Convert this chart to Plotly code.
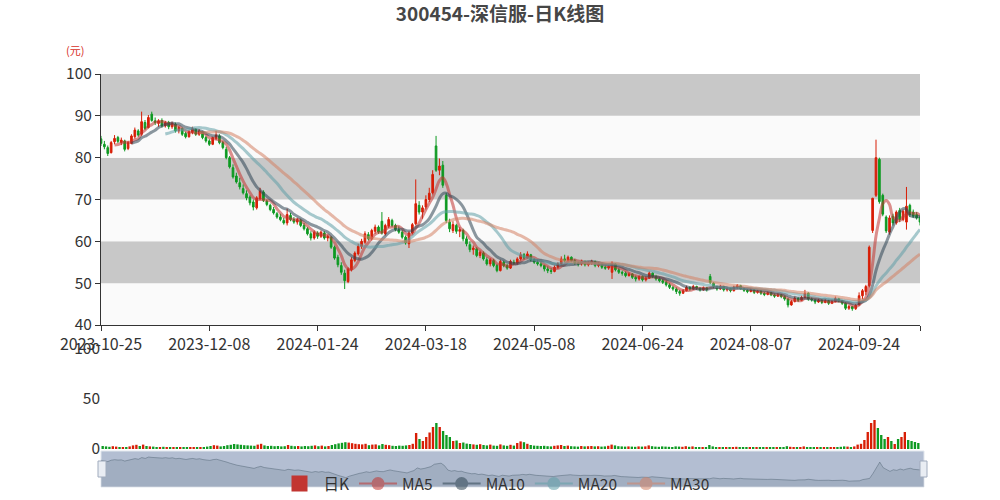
import pandas as pd
import plotly.graph_objects as go

# ---------------- data ----------------
holidays = ['2024-01-01', '2024-02-09', '2024-02-12', '2024-02-13', '2024-02-14', '2024-02-15',
            '2024-02-16', '2024-04-04', '2024-04-05', '2024-05-01', '2024-05-02', '2024-05-03',
            '2024-06-10', '2024-09-16', '2024-09-17', '2024-10-01', '2024-10-02', '2024-10-03',
            '2024-10-04', '2024-10-07']
dates = [d.strftime('%Y-%m-%d') for d in pd.bdate_range('2023-10-25', '2024-10-25')
         if d.strftime('%Y-%m-%d') not in holidays]

opens = [
    84.5, 83.2, 82.4, 81.2, 83.8, 84.8, 83.6, 84.0, 82.2, 83.4,
    85.0, 86.4, 85.6, 88.4, 87.2, 90.4, 88.8, 88.2, 88.9, 87.6,
    88.4, 87.4, 88.0, 86.4, 87.0, 85.8, 85.0, 86.0, 86.8, 85.6,
    86.2, 84.8, 84.0, 83.2, 84.6, 85.2, 83.6, 82.0, 80.0, 77.6,
    75.6, 74.0, 72.6, 71.4, 70.6, 69.4, 68.0, 70.2, 71.8, 69.6,
    68.6, 67.6, 66.6, 65.8, 65.0, 64.4, 66.2, 65.2, 64.6, 65.0,
    63.8, 63.0, 61.8, 60.8, 62.0, 61.2, 62.0, 60.8, 61.0, 58.6,
    56.2, 54.2, 52.4, 50.4, 53.2, 55.4, 57.0, 58.8, 59.8, 61.6,
    60.6, 62.4, 63.4, 64.8, 61.8, 63.6, 65.0, 63.8, 62.8, 62.2,
    61.0, 59.4, 62.0, 64.2, 68.6, 67.0, 68.2, 70.0, 71.6, 82.8,
    77.0, 78.2, 71.0, 64.6, 62.6, 63.8, 62.4, 62.6, 60.6, 59.2,
    58.0, 58.2, 56.6, 57.2, 55.6, 54.6, 55.4, 54.2, 53.0, 55.0,
    54.2, 53.6, 55.0, 54.8, 55.8, 56.8, 56.0, 56.8, 55.6, 55.0,
    54.6, 54.2, 53.4, 53.0, 52.8, 53.8, 54.6, 55.8, 55.4, 56.2,
    55.4, 54.8, 54.6, 55.2, 54.4, 54.8, 55.2, 54.2, 54.6, 53.8,
    53.6, 52.6, 54.6, 53.2, 52.6, 52.4, 51.8, 52.2, 51.4, 51.0,
    51.6, 50.8, 51.2, 52.4, 51.6, 51.0, 50.6, 50.2, 49.6, 49.0,
    48.6, 48.0, 47.6, 48.2, 49.0, 48.6, 49.2, 48.8, 48.4, 48.9,
    51.6, 50.0, 49.2, 48.6, 49.2, 48.4, 48.7, 48.2, 49.0, 49.4,
    48.6, 48.3, 48.0, 48.4, 47.8, 48.1, 47.6, 47.3, 47.7, 47.2,
    46.9, 47.2, 46.8, 46.2, 44.8, 45.6, 46.4, 45.9, 46.6, 47.6,
    46.2, 46.0, 45.5, 45.9, 45.4, 45.8, 45.2, 45.6, 46.3, 45.8,
    45.2, 44.0, 44.4, 43.9, 44.8, 47.0, 48.0, 49.4, 62.6, 71.0,
    79.6, 71.0, 65.8, 62.2, 66.0, 64.4, 67.4, 65.2, 64.6, 68.6,
    67.0, 66.4, 65.8]

highs = [
    85.2, 84.0, 82.9, 84.0, 85.4, 85.2, 84.8, 84.3, 84.0, 85.6,
    87.2, 86.8, 91.0, 89.0, 90.2, 91.0, 89.6, 89.2, 89.4, 88.8,
    88.8, 88.6, 88.4, 87.6, 87.2, 86.2, 86.6, 87.4, 87.0, 86.8,
    86.4, 85.2, 84.4, 85.0, 86.4, 85.6, 84.0, 82.6, 80.4, 78.4,
    76.4, 75.2, 73.6, 72.2, 71.0, 70.0, 70.8, 72.8, 72.2, 70.0,
    69.0, 68.2, 67.0, 66.6, 65.6, 67.8, 66.8, 65.8, 65.6, 65.4,
    64.4, 63.4, 62.4, 62.6, 62.4, 62.6, 62.4, 61.6, 61.2, 59.0,
    56.8, 55.0, 53.2, 53.8, 56.2, 57.6, 59.4, 60.6, 62.4, 62.2,
    63.0, 64.0, 63.8, 67.0, 64.2, 65.8, 65.4, 64.2, 63.6, 62.6,
    61.4, 62.4, 64.4, 74.8, 69.6, 68.6, 71.0, 72.8, 77.0, 85.2,
    79.8, 79.2, 71.6, 65.4, 64.8, 64.2, 63.4, 63.0, 61.2, 60.0,
    59.0, 58.6, 57.8, 57.6, 56.2, 56.0, 55.8, 54.6, 55.6, 55.4,
    54.6, 55.6, 55.6, 56.2, 57.4, 57.2, 57.6, 57.0, 56.0, 55.6,
    55.2, 54.4, 54.0, 53.6, 54.2, 55.0, 56.4, 56.8, 56.6, 56.4,
    55.8, 55.2, 55.6, 55.4, 55.2, 55.6, 55.4, 55.0, 54.8, 54.4,
    54.4, 55.2, 54.8, 53.6, 53.0, 52.8, 52.6, 52.4, 51.8, 51.8,
    51.8, 51.6, 52.8, 52.6, 52.0, 51.4, 51.0, 50.6, 50.0, 49.4,
    49.0, 48.4, 48.6, 49.4, 49.2, 49.6, 49.4, 49.0, 49.2, 49.0,
    52.2, 50.2, 49.4, 49.6, 49.4, 49.0, 48.9, 49.4, 49.8, 49.6,
    48.9, 48.6, 48.8, 48.6, 48.4, 48.3, 47.9, 48.0, 47.9, 47.5,
    47.6, 47.4, 47.0, 46.4, 46.0, 46.8, 46.6, 47.0, 48.4, 47.8,
    46.6, 46.2, 46.3, 46.1, 46.2, 46.0, 46.0, 46.8, 46.5, 46.0,
    45.4, 44.8, 44.6, 45.0, 47.8, 48.6, 49.6, 59.0, 70.4, 84.3,
    80.0, 71.4, 66.2, 66.2, 66.6, 67.4, 68.0, 67.6, 73.0, 69.0,
    67.6, 67.0, 66.2]

lows = [
    82.8, 82.0, 80.4, 81.0, 83.2, 83.5, 83.0, 81.5, 81.8, 83.2,
    84.6, 85.0, 85.2, 86.6, 87.0, 88.6, 87.8, 87.4, 87.2, 87.2,
    86.8, 86.9, 86.0, 85.8, 85.2, 84.6, 84.8, 85.6, 85.2, 85.2,
    84.4, 83.6, 82.8, 83.0, 84.2, 83.2, 82.0, 79.6, 77.4, 75.0,
    73.8, 72.4, 71.2, 69.8, 68.6, 67.4, 67.6, 69.8, 69.4, 68.4,
    67.2, 66.4, 65.4, 64.8, 64.0, 63.8, 64.8, 64.2, 64.0, 63.4,
    62.6, 61.4, 60.2, 60.4, 60.6, 60.8, 60.4, 60.0, 58.2, 55.6,
    53.8, 52.0, 48.6, 50.0, 52.8, 55.0, 56.6, 58.2, 59.4, 60.2,
    60.2, 61.8, 61.8, 61.6, 61.4, 63.2, 63.4, 62.4, 61.8, 60.6,
    59.2, 58.4, 61.6, 63.8, 66.4, 65.4, 67.6, 69.4, 71.2, 76.6,
    75.8, 72.8, 64.4, 62.2, 62.0, 61.8, 61.0, 60.0, 58.8, 57.4,
    56.8, 56.2, 56.0, 55.4, 54.2, 54.0, 53.8, 52.6, 52.8, 53.8,
    53.2, 53.4, 54.4, 54.4, 55.4, 55.6, 55.8, 55.2, 54.6, 54.2,
    53.8, 52.8, 52.4, 52.2, 52.6, 53.4, 54.4, 55.0, 55.0, 55.0,
    54.4, 54.0, 54.2, 54.0, 54.0, 54.4, 53.8, 53.8, 53.4, 53.2,
    53.2, 51.0, 52.8, 52.2, 51.8, 51.4, 51.6, 51.0, 50.4, 50.6,
    50.4, 50.4, 51.0, 51.2, 50.6, 50.2, 49.8, 49.2, 48.6, 48.2,
    47.4, 47.0, 47.4, 48.0, 48.2, 48.4, 48.4, 48.0, 48.2, 48.0,
    49.8, 48.8, 48.2, 48.4, 48.0, 48.0, 47.8, 48.0, 48.6, 48.4,
    47.9, 47.6, 47.8, 47.4, 47.5, 47.2, 46.9, 47.1, 46.9, 46.5,
    46.7, 46.4, 45.8, 44.2, 44.6, 45.4, 45.5, 45.7, 46.4, 45.8,
    45.6, 45.0, 45.3, 45.0, 45.2, 44.8, 45.0, 45.4, 45.4, 44.8,
    43.6, 43.6, 43.4, 43.6, 44.6, 46.2, 47.2, 49.0, 62.0, 70.6,
    69.0, 66.0, 62.0, 61.6, 63.8, 64.0, 64.6, 64.8, 62.8, 65.8,
    65.6, 65.2, 63.8]

closes = [
    83.4, 82.6, 81.0, 83.6, 84.6, 83.9, 84.2, 82.0, 83.6, 85.2,
    86.6, 85.4, 88.6, 87.0, 89.6, 88.9, 88.4, 88.8, 87.6, 88.4,
    87.4, 88.2, 86.4, 87.2, 85.6, 85.0, 86.2, 86.9, 85.6, 86.4,
    84.8, 84.0, 83.2, 84.8, 85.4, 83.6, 82.4, 80.0, 77.8, 75.4,
    74.2, 73.0, 71.6, 70.4, 69.2, 68.2, 70.4, 72.0, 69.8, 68.8,
    67.6, 66.8, 65.8, 65.2, 64.4, 66.4, 65.2, 64.6, 65.2, 63.8,
    63.0, 61.8, 60.8, 62.2, 61.2, 62.2, 60.8, 61.2, 58.6, 56.0,
    54.4, 52.6, 50.6, 53.4, 55.6, 57.2, 58.8, 60.0, 61.8, 60.6,
    62.6, 63.4, 62.2, 62.0, 63.8, 65.2, 63.8, 62.8, 62.2, 61.0,
    59.6, 62.0, 64.0, 69.0, 67.0, 68.0, 70.0, 71.5, 76.0, 77.0,
    78.0, 73.4, 65.0, 63.0, 64.0, 62.4, 62.8, 60.6, 59.4, 58.0,
    58.4, 56.6, 57.4, 55.8, 54.6, 55.6, 54.2, 53.0, 55.2, 54.2,
    53.6, 55.2, 54.8, 55.8, 56.8, 56.0, 57.0, 55.6, 55.0, 54.6,
    54.2, 53.4, 53.0, 52.8, 53.8, 54.6, 55.8, 55.4, 56.2, 55.4,
    54.8, 54.6, 55.2, 54.4, 54.8, 55.2, 54.2, 54.6, 53.8, 53.6,
    54.0, 54.8, 53.2, 52.6, 52.4, 51.8, 52.2, 51.4, 51.0, 51.6,
    50.8, 51.2, 52.4, 51.6, 51.0, 50.6, 50.2, 49.6, 49.0, 48.6,
    48.0, 47.6, 48.2, 49.0, 48.6, 49.2, 48.8, 48.4, 48.9, 48.5,
    50.2, 49.2, 48.6, 49.2, 48.4, 48.7, 48.2, 49.0, 49.4, 48.6,
    48.3, 48.0, 48.4, 47.8, 48.1, 47.6, 47.3, 47.7, 47.2, 46.9,
    47.2, 46.8, 46.2, 44.8, 45.6, 46.4, 45.9, 46.6, 47.6, 46.2,
    46.0, 45.5, 45.9, 45.4, 45.8, 45.2, 45.6, 46.3, 45.8, 45.2,
    44.0, 44.4, 43.9, 44.7, 47.0, 48.2, 49.2, 58.6, 70.3, 80.0,
    69.5, 66.5, 62.5, 65.6, 64.4, 67.0, 65.2, 67.2, 68.4, 66.4,
    66.0, 65.6, 64.6]

volumes = [
    3.0, 2.6, 2.2, 2.8, 2.4, 1.8, 1.6, 2.0, 2.6, 3.6,
    4.2, 3.0, 4.4, 3.0, 2.6, 2.4, 2.0, 1.8, 2.2, 1.6,
    1.8, 1.6, 2.0, 1.8, 1.6, 1.4, 1.8, 2.0, 1.6, 1.8,
    2.0, 2.4, 3.0, 3.8, 3.4, 2.6, 3.0, 3.8, 4.2, 5.0,
    4.6, 4.2, 3.8, 3.6, 3.4, 3.2, 4.4, 5.2, 3.6, 3.0,
    3.2, 2.8, 3.0, 2.6, 2.8, 4.0, 3.2, 2.8, 3.0, 2.6,
    3.0, 2.8, 3.2, 3.6, 2.8, 3.4, 2.6, 3.0, 4.0, 4.8,
    5.6, 6.2, 6.8, 6.4, 5.8, 5.2, 4.8, 4.6, 5.2, 3.8,
    4.4, 4.6, 3.6, 5.0, 4.2, 3.8, 3.2, 3.0, 3.4, 3.2,
    3.6, 4.0, 5.2, 16.0, 10.0, 8.0, 12.0, 16.5, 22.0, 26.0,
    22.0, 18.0, 14.0, 12.0, 8.0, 8.5, 6.0, 6.5, 5.4, 5.0,
    4.6, 4.2, 4.8, 4.0, 3.6, 4.4, 3.4, 3.2, 4.6, 3.6,
    3.2, 4.2, 3.4, 6.0, 7.6, 6.8, 5.2, 4.0, 3.4, 3.2,
    3.0, 3.2, 2.8, 2.6, 3.2, 3.6, 4.0, 3.0, 3.4, 2.8,
    2.6, 2.4, 3.0, 2.6, 2.8, 3.0, 2.6, 2.8, 2.4, 2.6,
    3.2, 4.4, 3.6, 2.8, 2.6, 2.4, 2.6, 2.4, 2.2, 2.6,
    2.4, 2.6, 3.6, 2.8, 2.4, 2.2, 2.6, 2.4, 2.2, 2.0,
    2.6, 2.4, 2.2, 2.8, 2.2, 2.6, 2.0, 1.8, 2.0, 1.8,
    4.0, 2.6, 2.0, 1.8, 1.6, 1.8, 1.6, 2.0, 2.2, 1.8,
    1.6, 1.4, 1.6, 1.4, 1.6, 1.4, 1.3, 1.6, 1.4, 1.3,
    1.4, 1.2, 1.6, 2.8, 2.2, 1.8, 1.6, 2.0, 2.6, 2.0,
    1.6, 1.4, 1.5, 1.3, 1.5, 1.4, 1.5, 1.8, 1.6, 2.2,
    2.6, 2.4, 2.0, 2.6, 4.4, 5.2, 9.0, 17.0, 26.0, 29.0,
    21.0, 14.0, 10.0, 12.0, 8.0, 5.0, 10.0, 12.0, 17.0, 9.0,
    8.0, 7.0, 6.0]

ma_windows = [5, 10, 20, 30]
ma_names = ['MA5', 'MA10', 'MA20', 'MA30']
ma_colors = ['#c23531', '#2f4554', '#61a0a8', '#d48265']

price_ticks = [40, 50, 60, 70, 80, 90, 100]
volume_ticks = [0, 50, 100]

# ---------------- figure ----------------
n = min(len(dates), len(closes))
dates = dates[:n]
UP = '#d81e06'
DOWN = '#0e9a22'
FONT = 'Noto Sans CJK SC, Noto Sans, sans-serif'

fig = go.Figure()

fig.add_trace(go.Candlestick(
    x=dates, open=opens[:n], high=highs[:n], low=lows[:n], close=closes[:n],
    increasing=dict(line=dict(color=UP, width=1), fillcolor=UP),
    decreasing=dict(line=dict(color=DOWN, width=1), fillcolor=DOWN),
    name='日K', showlegend=False, xaxis='x', yaxis='y'))

close_s = pd.Series(closes[:n])
for w, nm, col in zip(ma_windows, ma_names, ma_colors):
    ma = close_s.rolling(w).mean()
    ma_vals = [None if pd.isna(v) else round(v, 3) for v in ma]
    fig.add_trace(go.Scatter(
        x=dates, y=ma_vals, mode='lines', name=nm, showlegend=False,
        line=dict(color=col, width=3, shape='spline', smoothing=1.0),
        opacity=0.55, xaxis='x', yaxis='y', hoverinfo='skip'))

vol_colors = [UP if c >= o else DOWN for o, c in zip(opens[:n], closes[:n])]
fig.add_trace(go.Bar(x=dates, y=volumes[:n], marker=dict(color=vol_colors, line=dict(width=0)),
                     showlegend=False, name='成交量', xaxis='x2', yaxis='y2'))

# slider-style overview
fig.add_trace(go.Scatter(x=dates, y=closes[:n], mode='lines', fill='tozeroy',
                         line=dict(color='rgba(47,69,84,0.35)', width=1),
                         fillcolor='rgba(47,69,84,0.13)', showlegend=False,
                         xaxis='x3', yaxis='y3', hoverinfo='skip'))

# legend entries
fig.add_trace(go.Scatter(x=[None], y=[None], mode='markers', name='日K',
                         marker=dict(symbol='square', size=16, color='#c23531'),
                         xaxis='x', yaxis='y'))
for nm, col in zip(ma_names, ma_colors):
    fig.add_trace(go.Scatter(x=[None], y=[None], mode='lines+markers', name=nm,
                             line=dict(color=col, width=2), marker=dict(size=13, color=col),
                             opacity=0.55, xaxis='x', yaxis='y'))

shapes = []
band_colors = ['#fafafa', '#c8c8c8']
for k in range(len(price_ticks) - 1):
    shapes.append(dict(type='rect', xref='x domain', yref='y', x0=0, x1=1,
                       y0=price_ticks[k], y1=price_ticks[k + 1],
                       fillcolor=band_colors[k % 2], line=dict(width=0), layer='below'))
shapes.append(dict(type='rect', xref='x3 domain', yref='y3 domain', x0=0, x1=1, y0=0, y1=1,
                   fillcolor='#b3bed2', line=dict(color='#e2e7ee', width=1), layer='below'))
for hx0, hx1 in [(0.098, 0.106), (0.920, 0.927)]:
    shapes.append(dict(type='rect', xref='paper', yref='paper', x0=hx0, x1=hx1, y0=0.046, y1=0.078,
                       fillcolor='#e9edf3', line=dict(color='#a0abbd', width=1), layer='above'))

tick_idx = list(range(0, n, 32))
tickvals = [dates[i] for i in tick_idx] + [dates[n - 1]]
ticktext = [dates[i] for i in tick_idx] + ['']

fig.update_layout(
    width=1000, height=500,
    margin=dict(l=0, r=0, t=0, b=0, autoexpand=False),
    paper_bgcolor='white', plot_bgcolor='rgba(0,0,0,0)',
    font=dict(family=FONT, color='#333', size=15),
    title=dict(text='300454-深信服-日K线图', x=0.5, xanchor='center', y=0.972, yanchor='middle',
               font=dict(size=19, color='#464646', family=FONT, weight='bold')),
    showlegend=True,
    legend=dict(orientation='h', x=0.495, xanchor='center', y=0.032, yanchor='middle',
                font=dict(size=15.5, color='#333'), bgcolor='rgba(0,0,0,0)', itemwidth=38),
    bargap=0.3,
    shapes=shapes,
    annotations=[dict(text='(元)', xref='paper', yref='paper', x=0.075, y=0.9,
                      xanchor='center', yanchor='middle',
                      showarrow=False, font=dict(size=11, color='#d7301f'))],
    xaxis=dict(domain=[0.101, 0.92], anchor='y', type='category', range=[0, n - 1],
               rangeslider=dict(visible=False), tickmode='array', tickvals=tickvals,
               ticktext=ticktext, showline=True, linecolor='#333', linewidth=1,
               ticks='outside', ticklen=5, tickcolor='#333', showgrid=False, automargin=False,
               tickfont=dict(size=16, color='#333')),
    yaxis=dict(domain=[0.35, 0.852], anchor='x', range=[40, 100], tickvals=price_ticks,
               showline=True, linecolor='#333', ticks='outside', ticklen=5, tickcolor='#333',
               showgrid=False, zeroline=False, automargin=False,
               tickfont=dict(size=15.5, color='#333')),
    xaxis2=dict(domain=[0.101, 0.92], anchor='y2', type='category', range=[-0.5, n - 0.5],
                visible=False, automargin=False),
    yaxis2=dict(domain=[0.102, 0.302], anchor='x2', range=[0, 100], tickvals=volume_ticks,
                showline=False, showgrid=False, zeroline=False, ticks='', automargin=False,
                tickfont=dict(size=15.5, color='#333')),
    xaxis3=dict(domain=[0.101, 0.924], anchor='y3', type='category', range=[0, n - 1],
                visible=False, automargin=False),
    yaxis3=dict(domain=[0.026, 0.098], anchor='x3', range=[33, 101], visible=False,
                automargin=False),
)

fig.write_html('out.html', config={'displayModeBar': False},
               post_script="document.body.style.margin='0';")
